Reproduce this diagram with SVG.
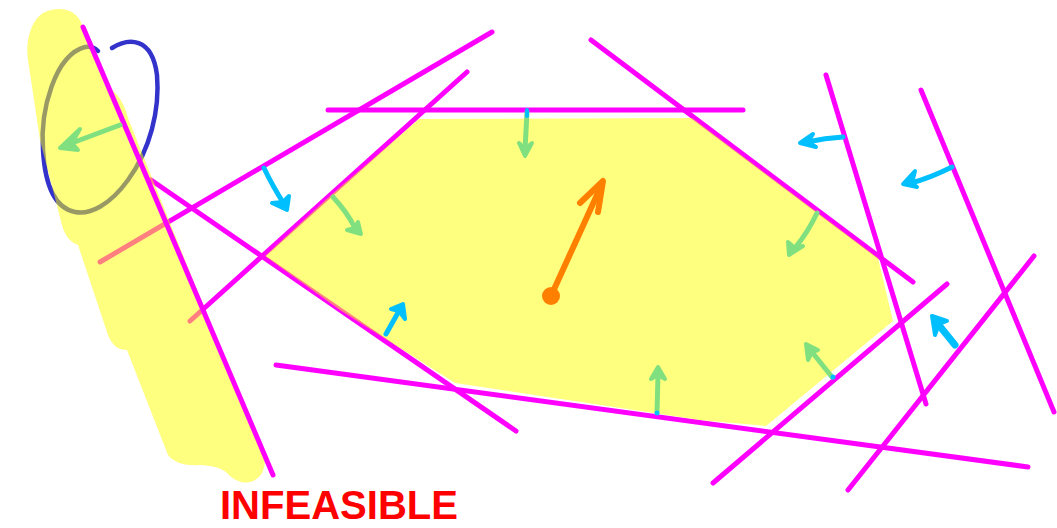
<svg xmlns="http://www.w3.org/2000/svg" width="1057" height="528" viewBox="0 0 1057 528">
<style>
.mg{stroke:#ff00ff;stroke-width:5;stroke-linecap:round;fill:none}
.hl{fill:#ffff00;fill-opacity:0.5;stroke:none}
.cy{stroke:#00bfff;stroke-width:5;stroke-linecap:round;stroke-linejoin:round;fill:none}
.cyh{stroke:#00bfff;fill:#00bfff;stroke-width:4;stroke-linejoin:round}
.gr{stroke:#80e080;stroke-width:5;stroke-linecap:round;stroke-linejoin:round;fill:none}
.grh{stroke:#80e080;fill:#80e080;stroke-width:4;stroke-linejoin:round}
.or{stroke:#ff8000;stroke-width:6;stroke-linecap:round;stroke-linejoin:round;fill:none}
</style>
<rect width="1057" height="528" fill="#ffffff"/>
<g id="constraint-lines">
<line class="mg" x1="100" y1="262" x2="492" y2="32"/>
<line class="mg" x1="190" y1="321" x2="467" y2="72"/>
<line class="mg" x1="151" y1="180" x2="516" y2="431"/>
<line class="mg" x1="328" y1="110" x2="743" y2="110"/>
<line class="mg" x1="591" y1="40" x2="913" y2="282"/>
<line class="mg" x1="826" y1="75" x2="926" y2="404"/>
<line class="mg" x1="921" y1="90" x2="1054" y2="412"/>
<line class="mg" x1="713" y1="483" x2="947" y2="284"/>
<line class="mg" x1="848" y1="490" x2="1034" y2="256"/>
<line class="mg" x1="276" y1="365" x2="1028" y2="467"/>
</g>
<g id="loop">
<path d="M112,48 C128,38 152,36 157,75 C160,110 150,150 128,180 C110,205 90,215 75,212 C55,208 45,185 43,150 C40,110 55,55 85,47 C90,46 95,48 98,51" fill="none" stroke="#3333cc" stroke-width="4.5" stroke-linecap="round"/>
</g>
<g id="feasible-region">
<path class="hl" d="M265,256 L330,196 L419,119 L692,118 L878,258 L893,321 L766,426 L700,420 L455,383 L340,310 Z"/>
</g>
<g id="infeasible-band">
<path class="hl" d="M45,12 C60,5 78,10 82,25 L105,85 C118,92 125,105 128,118 L201,300 L262,445 C268,462 265,478 250,482 C242,484 235,480 230,476 C222,466 210,466 200,465 C188,466 175,464 168,455 L127,350 C118,350 112,345 108,335 L78,245 C70,242 65,236 62,225 L40,140 L28,60 C25,40 32,18 45,12 Z"/>
<line class="mg" x1="83" y1="27" x2="273" y2="475"/>
</g>
<g id="arrows">
<path class="gr" d="M120,125 L72,143"/>
<polygon class="grh" points="60,148 80,129 72,143 78,150"/>
<path class="cy" d="M264,168 Q272,185 284,204"/>
<polygon class="cyh" points="287,210 272,203 283,202 289,196"/>
<path class="cy" d="M386,334 L399,311"/>
<polygon class="cyh" points="403,304 391,309 399,311 405,319"/>
<path class="cy" d="M843,137 Q825,138 807,142"/>
<polygon class="cyh" points="800,143 813,134 808,142 816,147"/>
<path class="cy" d="M952,167 Q930,178 911,183"/>
<polygon class="cyh" points="903,184 915,171 912,183 917,187"/>
<path class="cy" d="M955,345 L938,324" style="stroke-width:7"/>
<polygon class="cyh" points="932,316 935,335 939,324 947,321"/>
<path class="gr" d="M527,112 L525,150"/>
<polygon class="grh" points="525,156 519,143 525,149 532,143"/>
<path d="M527,110 L527,116" class="cy" style="stroke-width:4"/>
<path class="gr" d="M333,197 Q347,212 355,228"/>
<polygon class="grh" points="361,234 347,230 355,228 358,222"/>
<path class="gr" d="M817,213 Q808,232 795,248"/>
<polygon class="grh" points="789,255 788,242 795,248 803,246"/>
<path class="gr" d="M832,377 L812,352"/>
<polygon class="grh" points="806,344 808,360 812,352 818,350"/>
<circle cx="833" cy="377" r="2.5" fill="#00bfff"/>
<path class="gr" d="M657,412 L658,375"/>
<polygon class="grh" points="658,367 651,379 658,375 665,379"/>
<circle cx="657" cy="413" r="2.5" fill="#00bfff"/>
<circle cx="551" cy="296" r="9" fill="#ff8000"/>
<path class="or" d="M551,296 L602,184"/>
<path class="or" d="M580,203 L603,181 L598,212"/>
</g>
<text id="label" x="220" y="519" font-family="Liberation Sans, Arial, sans-serif" font-weight="bold" font-size="40" fill="#ff0000" textLength="238" lengthAdjust="spacingAndGlyphs">INFEASIBLE</text>
</svg>
